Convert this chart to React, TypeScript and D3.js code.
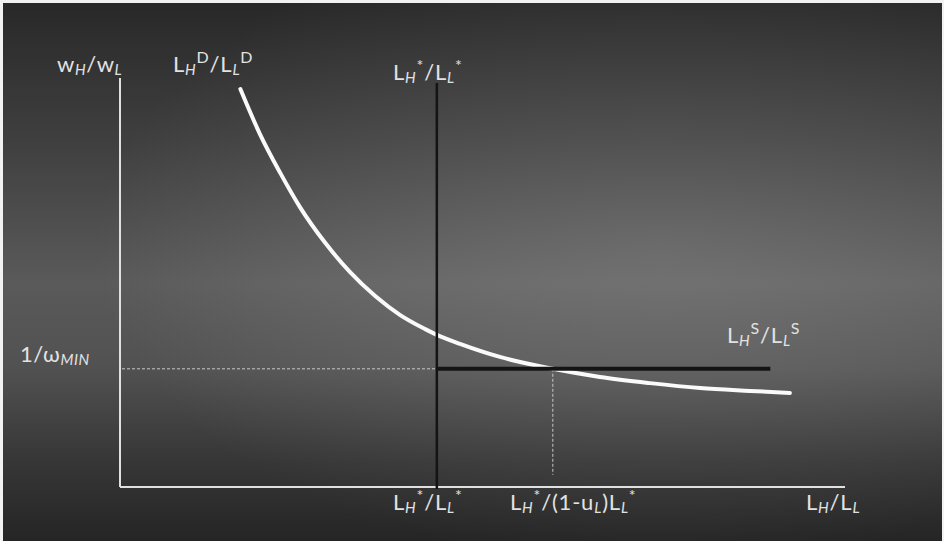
import React from "react";
import * as d3 from "d3";

// Demand curve L_H^D / L_L^D (abstract units 0..100)
const curveX = [16.6, 19.3, 22.1, 24.8, 28.3, 31.7, 35.2, 38.6, 42.1, 43.7, 46.9, 52.4, 59.7, 66.2, 73.1, 80, 86.9, 92.4];
const curveY = [97.3, 86.3, 76.8, 68.5, 59.7, 52.6, 46.7, 42.1, 38.6, 37.2, 35.0, 31.8, 28.9, 26.9, 25.4, 24.2, 23.5, 23.0];

// key values
const lStar = 43.7;        // L_H*/L_L*
const lUnemp = 59.7;       // L_H*/(1-u_L)L_L*
const wMin = 28.9;         // 1/omega_MIN
const supplyEnd = 89.7;
const vLineTop = 98.8;
const axisMax = 100;

const W = 944, H = 541;
const x = d3.scaleLinear().domain([0, 100]).range([120, 845]);
const y = d3.scaleLinear().domain([0, 100]).range([487, 78]);

const TXT = "#e2e2e2";
const FONT = "Lato, 'Open Sans', sans-serif";
const BIG = 22, SUB = 15, SUP = 16;

function Frac({ a, aSub, aSup, b, bSub, bSup, tx, ty }: any) {
  return (
    <text x={tx} y={ty} fill={TXT} fontFamily={FONT} fontSize={BIG} letterSpacing={0.8}>
      <tspan>{a}</tspan>
      {aSub && <tspan fontSize={SUB} fontStyle="italic" dy={3}>{aSub}</tspan>}
      {aSup && <tspan fontSize={SUP} dy={aSub ? -12 : -9}>{aSup}</tspan>}
      <tspan dy={aSup ? 9 : aSub ? -3 : 0}>/</tspan>
      <tspan>{b}</tspan>
      {bSub && <tspan fontSize={SUB} fontStyle="italic" dy={3}>{bSub}</tspan>}
      {bSup && <tspan fontSize={SUP} dy={bSub ? -12 : -9}>{bSup}</tspan>}
    </text>
  );
}

export default function App() {
  const pts = curveX.map((v, i) => [x(v), y(curveY[i])] as [number, number]);
  const line = d3.line().curve(d3.curveMonotoneX)(pts) as string;

  return (
    <svg width={W} height={H} style={{ position: "absolute", left: 0, top: 0 }}>
      <defs>
        <linearGradient id="bgv" x1="0" y1="0" x2="0" y2="1">
          <stop offset="0" stopColor="#2e2e2e" />
          <stop offset="0.25" stopColor="#474747" />
          <stop offset="0.52" stopColor="#666666" />
          <stop offset="0.68" stopColor="#5c5c5c" />
          <stop offset="0.85" stopColor="#3e3e3e" />
          <stop offset="1" stopColor="#2a2a2a" />
        </linearGradient>
        <radialGradient id="bgr" cx="0.7" cy="0.45" r="0.6">
          <stop offset="0" stopColor="#ffffff" stopOpacity="0.08" />
          <stop offset="1" stopColor="#000000" stopOpacity="0.12" />
        </radialGradient>
      </defs>
      <rect x={0} y={0} width={W} height={H} fill="#f2f2f2" />
      <rect x={3} y={3} width={W - 5} height={H - 3} fill="url(#bgv)" />
      <rect x={3} y={3} width={W - 5} height={H - 3} fill="url(#bgr)" />

      {/* dotted guides */}
      <line x1={x(0) + 2} x2={x(lStar)} y1={y(wMin)} y2={y(wMin)} stroke="#c8c8c8" strokeWidth={1} strokeDasharray="3,2" />
      <line x1={x(lUnemp)} x2={x(lUnemp)} y1={y(wMin)} y2={y(3)} stroke="#c8c8c8" strokeWidth={1} strokeDasharray="3,2" />

      {/* axes */}
      <line x1={x(0)} x2={x(0)} y1={y(axisMax)} y2={y(0)} stroke="#e0e0e0" strokeWidth={2} />
      <line x1={x(0)} x2={x(axisMax)} y1={y(0)} y2={y(0)} stroke="#e0e0e0" strokeWidth={2} />

      {/* demand curve */}
      <path d={line} fill="none" stroke="#fafafa" strokeWidth={4} strokeLinecap="round" />

      {/* supply: vertical + horizontal black */}
      <line x1={x(lStar)} x2={x(lStar)} y1={y(vLineTop)} y2={y(0) + 2} stroke="#141414" strokeWidth={2.5} />
      <line x1={x(lStar)} x2={x(supplyEnd)} y1={y(wMin)} y2={y(wMin)} stroke="#141414" strokeWidth={4} />

      {/* labels */}
      <text x={57} y={72} fill={TXT} fontFamily={FONT} fontSize={BIG} letterSpacing={0.6}>
        <tspan>w</tspan><tspan fontSize={SUB} fontStyle="italic" dy={3}>H</tspan>
        <tspan dy={-3}>/w</tspan><tspan fontSize={SUB} fontStyle="italic" dy={3}>L</tspan>
      </text>
      <Frac tx={173} ty={72} a="L" aSub="H" aSup="D" b="L" bSub="L" bSup="D" />
      <Frac tx={393} ty={80} a="L" aSub="H" aSup="*" b="L" bSub="L" bSup="*" />
      <text x={20} y={362} fill={TXT} fontFamily={FONT} fontSize={BIG} letterSpacing={0.6}>
        <tspan>1/ω</tspan><tspan fontSize={SUB} fontStyle="italic" dy={3}>MIN</tspan>
      </text>
      <Frac tx={727} ty={343} a="L" aSub="H" aSup="S" b="L" bSub="L" bSup="S" />
      <Frac tx={393} ty={510} a="L" aSub="H" aSup="*" b="L" bSub="L" bSup="*" />
      <text x={510} y={510} fill={TXT} fontFamily={FONT} fontSize={BIG} letterSpacing={0.8}>
        <tspan>L</tspan><tspan fontSize={SUB} fontStyle="italic" dy={3}>H</tspan>
        <tspan fontSize={SUP} dy={-12}>*</tspan>
        <tspan dy={9}>/(1-u</tspan><tspan fontSize={SUB} fontStyle="italic" dy={3}>L</tspan>
        <tspan dy={-3}>)L</tspan><tspan fontSize={SUB} fontStyle="italic" dy={3}>L</tspan>
        <tspan fontSize={SUP} dy={-12}>*</tspan>
      </text>
      <text x={806} y={510} fill={TXT} fontFamily={FONT} fontSize={BIG} letterSpacing={0.8}>
        <tspan>L</tspan><tspan fontSize={SUB} fontStyle="italic" dy={3}>H</tspan>
        <tspan dy={-3}>/L</tspan><tspan fontSize={SUB} fontStyle="italic" dy={3}>L</tspan>
      </text>
    </svg>
  );
}
